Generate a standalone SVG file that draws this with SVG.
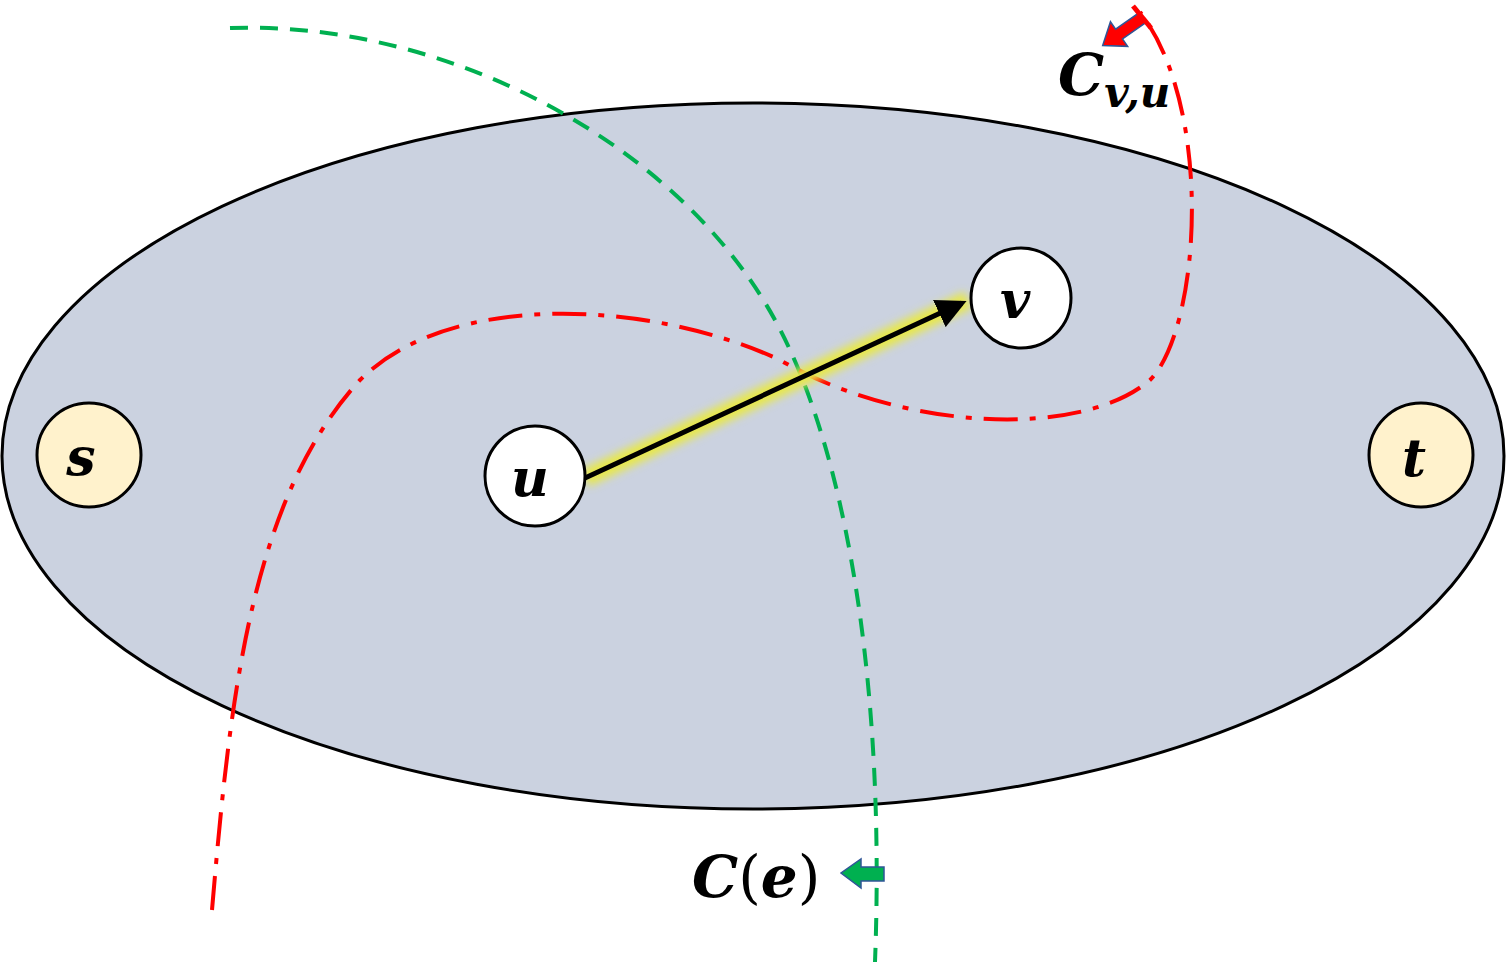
<svg xmlns="http://www.w3.org/2000/svg" width="1507" height="970" viewBox="0 0 1507 970">
<defs>
<style>
.n{stroke:#000;stroke-width:3}
.lbl{font-family:"DejaVu Serif","Liberation Serif",serif;font-weight:bold;font-style:italic;fill:#000}
</style>
<marker id="ah" markerWidth="6" markerHeight="6" refX="5" refY="3" orient="auto" markerUnits="strokeWidth"><path d="M0,0L6,3L0,6z" fill="#000"/></marker>
<filter id="glow" x="-20%" y="-50%" width="140%" height="200%"><feGaussianBlur stdDeviation="4"/></filter>
</defs>
<rect width="1507" height="970" fill="#fff"/>
<g id="region"><ellipse cx="753" cy="456" rx="751" ry="353" fill="#cbd2e0" stroke="#000" stroke-width="3"/></g>
<g id="connectors">
<path d="M230,28 C450,20 700,150 790,350 C850,480 885,700 875,962" fill="none" stroke="#00b050" stroke-width="4" stroke-dasharray="18,12"/>
<path d="M212,910 C230,700 250,500 360,380 C450,290 650,300 780,360 C900,430 1080,440 1150,380 C1200,330 1215,110 1140,12" fill="none" stroke="#ff0000" stroke-width="4" stroke-dasharray="34,12,6,12"/>
<line x1="585" y1="478" x2="968" y2="300" stroke="#e8e84a" stroke-width="18" filter="url(#glow)"/>
<line x1="585" y1="478" x2="962" y2="303" stroke="#000" stroke-width="5" marker-end="url(#ah)"/>
<g transform="translate(1142,18) rotate(145)">
<path d="M0,-6 L28,-6 L28,-15 L48,0 L28,15 L28,6 L0,6 Z" fill="#ff0000" stroke="#2f5597" stroke-width="1.5"/>
</g>
<line x1="1133" y1="6" x2="1151" y2="28" stroke="#ff0000" stroke-width="5"/>
<path d="M884,867 L884,881 L861,881 L861,888 L841,873 L861,859 L861,867 Z" fill="#00b050" stroke="#2f5597" stroke-width="1.5"/>
</g>
<g id="s"><circle class="n" cx="89" cy="455" r="52" fill="#fff2cc"/><text class="lbl" x="81" y="475" font-size="52" text-anchor="middle">s</text></g>
<g id="u"><circle class="n" cx="535" cy="476" r="50" fill="#fff"/><text class="lbl" x="530" y="496" font-size="52" text-anchor="middle">u</text></g>
<g id="v"><circle class="n" cx="1021" cy="298" r="50" fill="#fff"/><text class="lbl" x="1015" y="318" font-size="52" text-anchor="middle">v</text></g>
<g id="t"><circle class="n" cx="1421" cy="455" r="52" fill="#fff2cc"/><text class="lbl" x="1414" y="476" font-size="52" text-anchor="middle">t</text></g>
<g id="cvu"><text class="lbl" x="1058" y="95" font-size="58">C<tspan font-size="42" dy="12">v,u</tspan></text></g>
<g id="ce"><text class="lbl" x="692" y="897" font-size="58">C<tspan font-style="normal" font-weight="normal">(</tspan>e<tspan font-style="normal" font-weight="normal">)</tspan></text></g>
</svg>
